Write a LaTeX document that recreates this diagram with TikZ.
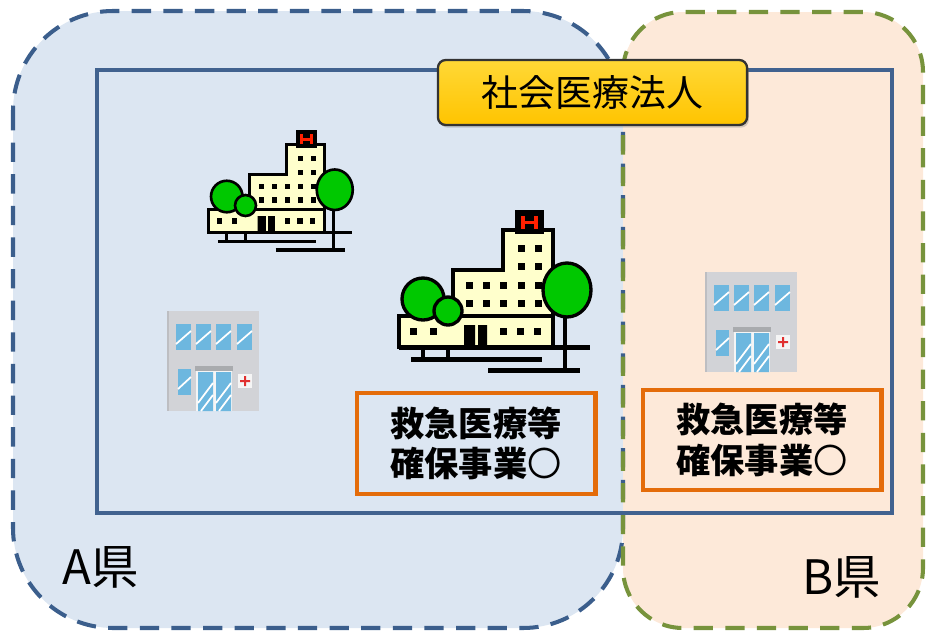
\documentclass[tikz,border=0pt]{standalone}
\usepackage{fontspec}
\setmainfont{Noto Sans CJK JP}
\usetikzlibrary{shadows}

\definecolor{prefA}{HTML}{DCE6F2}
\definecolor{prefAline}{HTML}{3B5E8C}
\definecolor{prefB}{HTML}{FDE9D9}
\definecolor{prefBline}{HTML}{77933C}
\definecolor{corpline}{HTML}{41628F}
\definecolor{corptop}{HTML}{FFD836}
\definecolor{corpbottom}{HTML}{FFC400}
\definecolor{projorange}{HTML}{E46C0A}
\definecolor{wallcream}{HTML}{FFFFCC}
\definecolor{leaf}{HTML}{00C800}
\definecolor{hred}{HTML}{FF2000}
\definecolor{clinicwall}{HTML}{D2D3D7}
\definecolor{clinicglass}{HTML}{6DB7DF}
\definecolor{clinicframe}{HTML}{A9ABAE}
\definecolor{crossred}{HTML}{E03030}

\newcommand\maru{{\mdseries 〇}}

\tikzset{
  prefborder/.style={line width=2.3pt, dash pattern=on 11pt off 7pt},
  projbox/.style={draw=projorange, line width=2.3pt, align=center,
    font=\bfseries\fontsize{19.5}{23}\selectfont},
  corpbox/.style={draw=black!80, line width=1.3pt, rounded corners=4.5pt,
    top color=corptop, bottom color=corpbottom,
    drop shadow={shadow xshift=1pt, shadow yshift=-1.5pt, opacity=.35},
    minimum width=176pt, minimum height=37pt, font=\fontsize{21}{25}\selectfont},
  preflabel/.style={font=\fontsize{27}{30}\selectfont},
  glass/.style={fill=clinicglass},
  % hospital clip art, #1 = outline width
  pics/hospital/.style={code={
    \begin{scope}[line width=#1]
      % ground and trunks
      \draw[line width=1.5*#1] (21,154) -- (152,154);
      \draw[line width=1.5*#1] (98,165) -- (190,165);
      \draw (33,112) -- (33,154) (58,118) -- (58,154) (175,110) -- (175,165);
      % building
      \filldraw[fill=wallcream] (9,142) -- (9,111) -- (63,111) -- (63,65) -- (113,65)
        -- (113,25) -- (163,25) -- (163,142) -- cycle;
      \draw (9,111) -- (163,111);
      \draw[line width=1.5*#1] (9,142) -- (200,142);
      \foreach \wy in {40,58} \foreach \wx in {128,145}
        \fill (\wx,\wy) rectangle +(7,7);
      \foreach \wy in {77,95} \foreach \wx in {76,93,110,128,145}
        \fill (\wx,\wy) rectangle +(7,7);
      \foreach \wx in {20,40,110,127,144}
        \fill (\wx,123) rectangle +(7,7);
      \fill (74,120) rectangle (85,142) (88,120) rectangle (97,142);
      % H sign
      \filldraw (127,7) rectangle (152,27);
      \draw[hred, line width=1.1*#1] (133,11) -- (133,24) (146,11) -- (146,24) (133,17.5) -- (146,17.5);
      % trees
      \filldraw[fill=leaf] (33,94) circle (21);
      \filldraw[fill=leaf] (58,106) circle (14);
      \filldraw[fill=leaf] (177,85) ellipse (24 and 27);
    \end{scope}
  }},
  % small clinic, 92 x 100
  pics/clinic/.style={code={
    \fill[clinicwall] (0,0) rectangle (92,100);
    \fill[clinicwall!90!black] (0,0) rectangle (2,100);
    \foreach \wx in {9,29,49,70} {
      \fill[glass] (\wx,13) rectangle +(15,26);
      \draw[white, line width=1pt] (\wx,33) -- (\wx+15,20);
    }
    \fill[glass] (11,58) rectangle (24,84);
    \draw[white, line width=1pt] (11,78) -- (24,66);
    \fill[clinicframe] (28,55) rectangle (66,60);
    \fill[white!92!gray] (29,60) rectangle (65,100);
    \fill[glass] (31,61) rectangle (46,100) (49,61) rectangle (64,100);
    \draw[white, line width=1pt] (31,92) -- (46,72) (34,100) -- (46,84) (49,92) -- (64,72) (52,100) -- (64,84);
    \fill[white!92!gray] (71,63) rectangle (85,77);
    \fill[crossred] (77,65) rectangle (79,75) (73,69) rectangle (83,71);
  }}
}

\begin{document}
\begin{tikzpicture}[x=0.02cm, y=-0.02cm]
\def\prefApath{(13,11) rectangle (623,628)}
\def\prefBpath{(623,12) rectangle (923,628)}
\useasboundingbox (0,0) rectangle (926,632);

% prefecture areas
\fill[prefA, rounded corners=2cm] \prefApath;
\fill[prefB, rounded corners=1.2cm] \prefBpath;
\draw[prefborder, draw=prefAline, rounded corners=2cm] \prefApath;
\draw[prefborder, draw=prefBline, rounded corners=1.2cm] \prefBpath;

% corporation frame
\draw[corpline, line width=2.2pt] (97,70) rectangle (892,513);

\pic at (390,205) {hospital=1.9pt};
\pic[scale=.75] at (202,126) {hospital=1.5pt};
\pic at (167,311) {clinic};
\pic at (705,272) {clinic};

\node[projbox, minimum width=136pt, minimum height=58pt] (projA) at (476,443.5) {救急医療等\\確保事業\maru};
\node[projbox, minimum width=136pt, minimum height=57pt] (projB) at (762,440) {救急医療等\\確保事業\maru};

\node[corpbox] (corp) at (592.5,92.5) {社会医療法人};

\node[preflabel] (labA) at (101,567) {A県};
\node[preflabel] (labB) at (842,577) {B県};
\end{tikzpicture}
\end{document}
